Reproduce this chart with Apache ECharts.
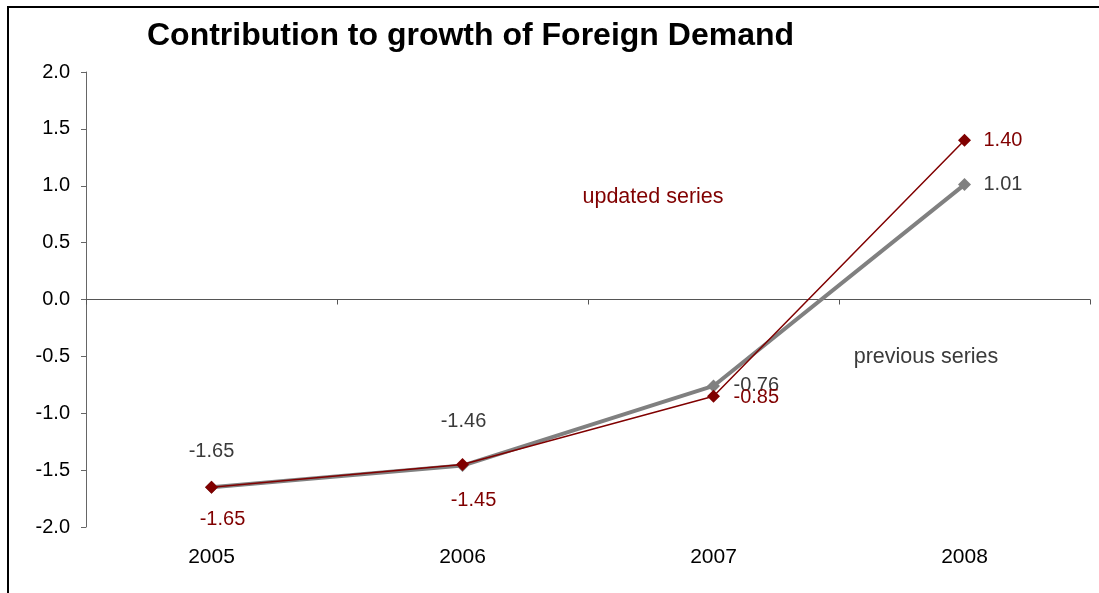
<!DOCTYPE html>
<html>
<head>
<meta charset="utf-8">
<script src="https://cdn.jsdelivr.net/npm/echarts@6/dist/echarts.min.js"></script>
<style>
  html, body { margin: 0; padding: 0; background: #fff; }
  #chart { width: 1099px; height: 593px; }
</style>
</head>
<body>
<div id="chart"></div>
<script>
// Years on the category axis
var years = ['2005', '2006', '2007', '2008'];
// Contribution to growth, percentage points
var previousSeries = [-1.65, -1.46, -0.76, 1.01];
var updatedSeries = [-1.65, -1.45, -0.85, 1.40];
// Value axis ticks
var yTicks = [-2.0, -1.5, -1.0, -0.5, 0.0, 0.5, 1.0, 1.5, 2.0];

var FONT = '"Liberation Sans", Arial, sans-serif';
var RED = '#800000';
var GREY = '#808080';
var GREY_TEXT = '#3a3a3a';

// per-point label placement (offset from the marker centre)
var prevLabelStyle = [
  { align: 'center', offset: [0, -36] },
  { align: 'center', offset: [1, -44] },
  { align: 'left', offset: [20, 0] },
  { align: 'left', offset: [19, 0] }
];
var updLabelStyle = [
  { align: 'center', offset: [11, 32] },
  { align: 'center', offset: [11, 36] },
  { align: 'left', offset: [20, 1] },
  { align: 'left', offset: [19, 0] }
];

function withLabels(values, styles, color) {
  return values.map(function (v, i) {
    return {
      value: v,
      label: {
        show: true,
        position: 'inside',
        align: styles[i].align,
        verticalAlign: 'middle',
        offset: styles[i].offset,
        color: color,
        fontSize: 20,
        fontFamily: FONT,
        formatter: function (p) { return p.value.toFixed(2); }
      }
    };
  });
}

var chart = echarts.init(document.getElementById('chart'), null, { renderer: 'canvas' });

chart.setOption({
  backgroundColor: '#ffffff',
  animation: false,
  grid: { left: 86, right: 9, top: 72, bottom: 66, containLabel: false },
  xAxis: [
    {
      // year labels along the bottom
      type: 'category',
      data: years,
      position: 'bottom',
      boundaryGap: true,
      axisLine: { show: false, onZero: false },
      axisTick: { show: false },
      axisLabel: { color: '#000', fontSize: 21, fontFamily: FONT, margin: 20 },
      splitLine: { show: false }
    },
    {
      // horizontal line through zero with tick marks between years
      type: 'category',
      data: years,
      position: 'top',
      boundaryGap: true,
      axisLine: { show: true, onZero: true, onZeroAxisIndex: 0, lineStyle: { color: '#555', width: 1 } },
      axisTick: { show: true, inside: true, length: 5, lineStyle: { color: '#555' } },
      axisLabel: { show: false },
      splitLine: { show: false }
    }
  ],
  yAxis: {
    type: 'value',
    min: yTicks[0],
    max: yTicks[yTicks.length - 1],
    interval: 0.5,
    axisLine: { show: true, onZero: false, lineStyle: { color: '#666', width: 1 } },
    axisTick: { show: true, inside: false, length: 5, lineStyle: { color: '#666' } },
    axisLabel: {
      color: '#000', fontSize: 20, fontFamily: FONT, margin: 16,
      formatter: function (v) { return v.toFixed(1); }
    },
    splitLine: { show: false }
  },
  series: [
    {
      name: 'previous series',
      type: 'line',
      xAxisIndex: 0,
      data: withLabels(previousSeries, prevLabelStyle, GREY_TEXT),
      symbol: 'diamond',
      symbolSize: 13,
      itemStyle: { color: GREY },
      lineStyle: { color: GREY, width: 4 },
      z: 2
    },
    {
      name: 'updated series',
      type: 'line',
      xAxisIndex: 0,
      data: withLabels(updatedSeries, updLabelStyle, RED),
      symbol: 'diamond',
      symbolSize: 13,
      itemStyle: { color: RED },
      lineStyle: { color: RED, width: 1.5 },
      z: 3
    }
  ],
  graphic: [
    {
      // chart frame
      type: 'rect',
      shape: { x: 8, y: 7, width: 1200, height: 700 },
      style: { fill: 'none', stroke: '#000', lineWidth: 2 },
      silent: true
    },
    {
      type: 'text',
      left: 147,
      top: 20,
      style: {
        text: 'Contribution to growth of Foreign Demand',
        fill: '#000',
        font: 'bold 32px ' + FONT
      }
    },
    {
      type: 'text',
      x: 653,
      y: 197,
      style: {
        text: 'updated series',
        fill: RED,
        font: '21.5px ' + FONT,
        align: 'center',
        verticalAlign: 'middle'
      }
    },
    {
      type: 'text',
      x: 926,
      y: 357,
      style: {
        text: 'previous series',
        fill: GREY_TEXT,
        font: '21.5px ' + FONT,
        align: 'center',
        verticalAlign: 'middle'
      }
    }
  ]
});
</script>
</body>
</html>
